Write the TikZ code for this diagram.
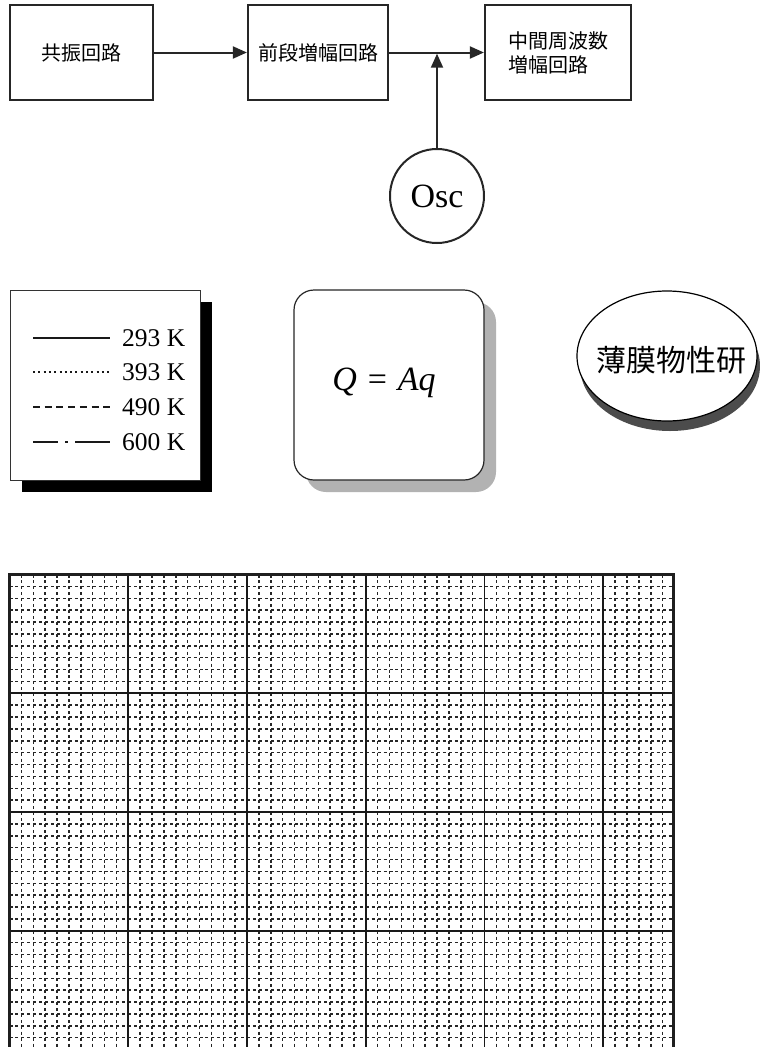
\documentclass[tikz,border=0pt]{standalone}
\usepackage{fontspec}
\setmainfont{Liberation Serif}
\newfontfamily\jp{Noto Sans CJK JP}
\usetikzlibrary{arrows.meta,shapes.geometric,shadows}
\begin{document}
\begin{tikzpicture}[x=1pt,y=-1pt,
  blk/.style={draw=black!85,line width=2.2pt,minimum height=95pt,inner sep=0pt,
    font=\jp\fontsize{20}{24}\selectfont},
  conn/.style={line width=2pt,draw=black!85,-{Triangle[length=14pt,width=12pt]}},
  legline/.style={line width=2pt,black!90},
  legtext/.style={anchor=west,inner sep=0pt,font=\fontsize{25.5}{28}\selectfont},
  minorline/.style={line width=1.5pt,black!85,dash pattern=on 3pt off 2.9375pt},
  majorline/.style={line width=1.7pt,black!90},
  gridframe/.style={line width=3.8pt,black!88},
]
\useasboundingbox (0,0) rectangle (760,1047);
\clip (0,0) rectangle (760,1047);

% block diagram
\node[blk,minimum width=143pt] (b1) at (81.5,52.5) {共振回路};
\node[blk,minimum width=140pt] (b2) at (318,52.5) {前段増幅回路};
\node[blk,minimum width=146pt,align=left] (b3) at (558,52.5) {中間周波数\\増幅回路};
\node[circle,draw=black!85,line width=2pt,minimum size=94pt,inner sep=0pt,
  font=\fontsize{34}{36}\selectfont] (osc) at (437,196) {Osc};
\draw[conn] (b1.east) -- (b2.west);
\draw[conn] (b2.east) -- (b3.west);
\coordinate (j) at (osc.north |- b2.east);
\draw[conn,shorten >=1.2pt] (osc.north) -- (j);

% legend
\node[draw=black!80,line width=1pt,fill=white,minimum width=190pt,minimum height=190pt,
  drop shadow={shadow xshift=12pt,shadow yshift=-12pt,fill=black,opacity=1}] (leg) at (105,385) {};
\draw[legline] (33,338) -- (110,338);
\draw[legline,line width=1.8pt,dash pattern=on 2pt off 3.3pt] (33,372) -- (110,372);
\draw[legline,dash pattern=on 7pt off 4.7pt] (33,407) -- (110,407);
\draw[legline,dash pattern=on 25pt off 7pt on 3pt off 7pt on 40pt] (33,442) -- (110,442);
\node[legtext] (t1) at (122,338) {293 K};
\node[legtext] (t2) at (122,372) {393 K};
\node[legtext] (t3) at (122,407) {490 K};
\node[legtext] (t4) at (122,442) {600 K};

% formula box
\node[draw=black!85,line width=1.2pt,rounded corners=20pt,fill=white,
  minimum width=190pt,minimum height=190pt,
  drop shadow={shadow xshift=12pt,shadow yshift=-12pt,fill=black!30,opacity=1},
  font=\fontsize{34}{38}\selectfont] (qbox) at (389,385) {};
\node[inner sep=0pt,font=\fontsize{34}{38}\selectfont] (qtext) at (384,383)
  {\textit{Q}\hspace{0.32em}=\hspace{0.32em}\textit{Aq}};

% ellipse label
\node[ellipse,draw=black,line width=1.2pt,fill=white,minimum width=180pt,minimum height=130pt,
  inner sep=0pt,
  drop shadow={shadow xshift=3pt,shadow yshift=-10pt,fill=black!70,opacity=1}] (lab) at (667,356) {};
\node[font=\jp\fontsize{30}{34}\selectfont,inner sep=0pt] (labt) at (671,360) {薄膜物性研};

% grid
\begin{scope}
  \clip (9.5,574.5) rectangle (673.5,1047);
  \foreach \i in {1,...,55} \draw[minorline] ({9.5+\i*11.875},574.5) -- ++(0,480);
  \foreach \j in {1,...,40} \draw[minorline] (9.5,{574.5+\j*11.875}) -- ++(670,0);
  \foreach \i in {1,...,5} \draw[majorline] ({9.5+\i*118.75},574.5) -- ++(0,480);
  \foreach \j in {1,...,3} \draw[majorline] (9.5,{574.5+\j*118.75}) -- ++(670,0);
\end{scope}
\draw[gridframe] (9.5,1060) -- (9.5,574.5) -- (673.5,574.5) -- (673.5,1060);
\end{tikzpicture}
\end{document}
